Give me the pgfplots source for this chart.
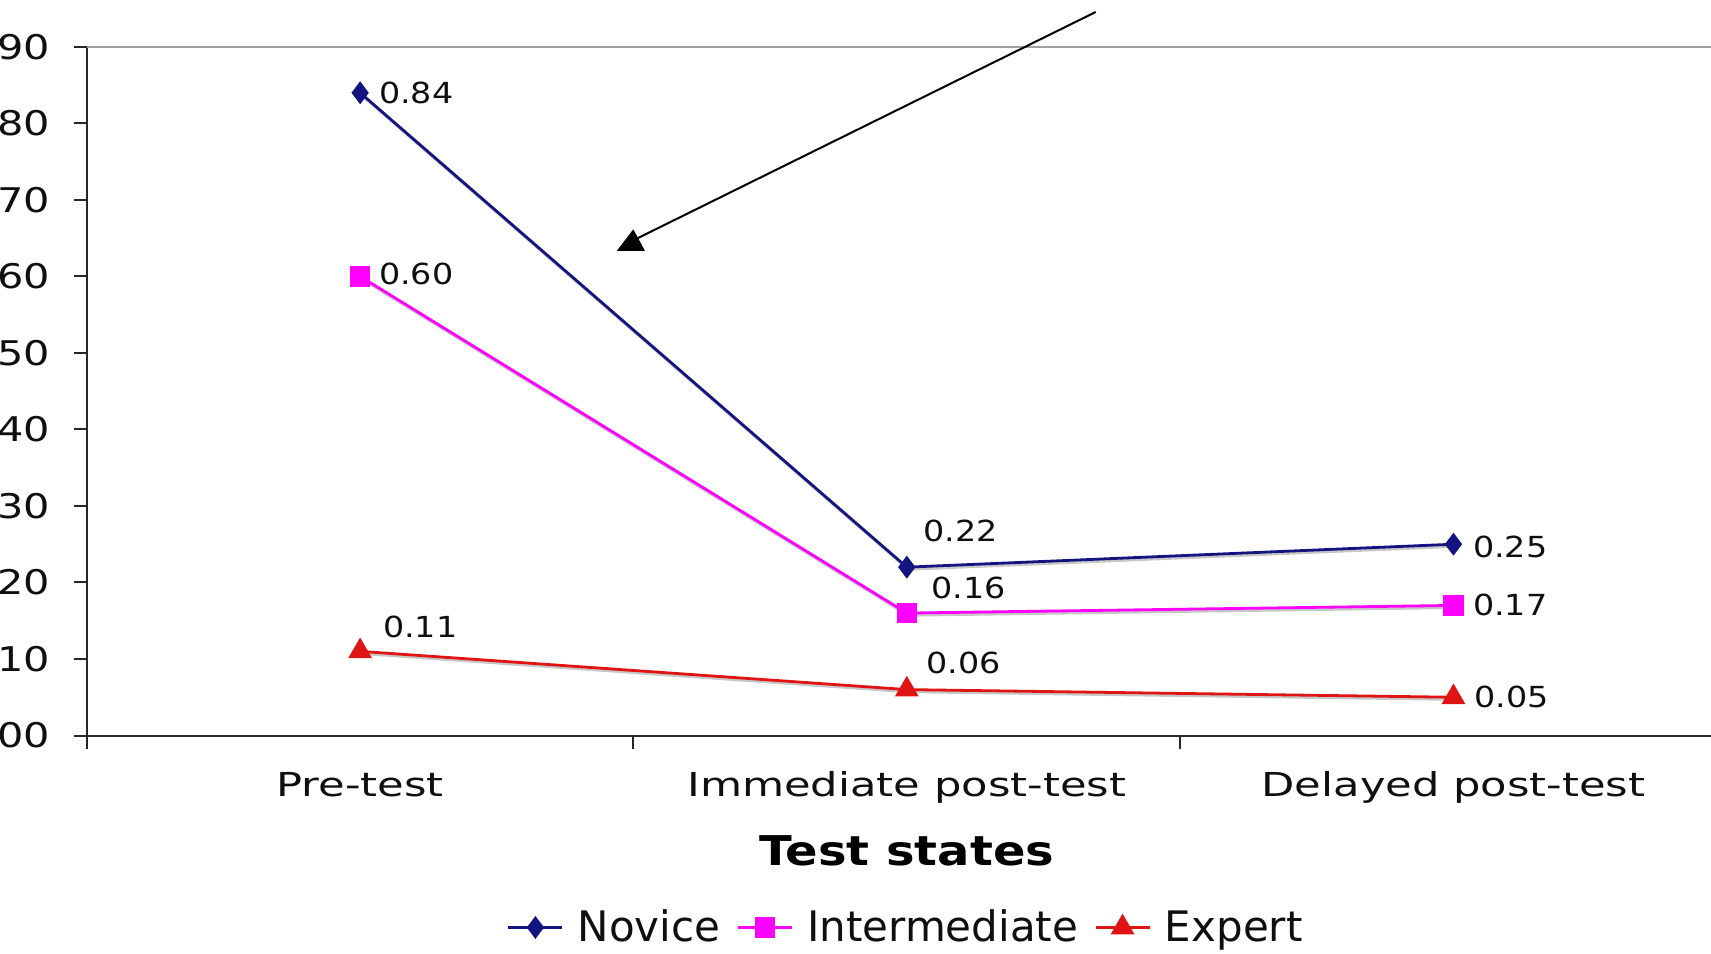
\documentclass[border=0pt]{standalone}
\usepackage{pgfplots}
\pgfplotsset{compat=1.18}
\usepackage{pgfplotstable}
\usepackage{fontspec}
\setmainfont{DejaVu Sans}
\newfontfamily\tickfont{DejaVu Sans}[FakeStretch=1.22]
\newfontfamily\catfont{DejaVu Sans}[FakeStretch=1.31]
\newfontfamily\valfont{DejaVu Sans}[FakeStretch=1.15]
\newfontfamily\titlefont{DejaVu Sans}[FakeStretch=1.17]

\definecolor{novice}{RGB}{20,20,128}
\definecolor{inter}{RGB}{255,0,255}
\definecolor{expert}{RGB}{225,20,20}
\definecolor{txt}{RGB}{15,15,15}

% x: 0 = Pre-test, 1 = Immediate post-test, 2 = Delayed post-test
% dx, dy: offset of each value label from its point (pt)
\pgfplotstableread{
x y dx dy
0 0.84 8.8 0
1 0.22 7.5 18.2
2 0.25 9.1 -1.2
}\novice
\pgfplotstableread{
x y dx dy
0 0.60 8.8 1
1 0.16 11.6 12.4
2 0.17 9.1 0
}\inter
\pgfplotstableread{
x y dx dy
0 0.11 10.8 12
1 0.06 9.1 13.1
2 0.05 9.9 0
}\expert

\pgfplotsset{
  valuelabels/.style={
    visualization depends on=\thisrow{dx}\as\dx,
    visualization depends on=\thisrow{dy}\as\dy,
    nodes near coords={\pgfmathprintnumber[fixed,fixed zerofill,precision=2,assume math mode=true]{\pgfplotspointmeta}},
    nodes near coords align={horizontal},
    every node near coord/.append style={anchor=west, inner sep=0pt,
      xshift=\dx pt, yshift=\dy pt, text=txt,
      font=\valfont\fontsize{14.5}{17}\selectfont},
  },
  shadow/.style={forget plot, draw=black!22, line width=1.4pt, no marks,
    xshift=0.6pt, yshift=-1.1pt},
}

\begin{document}
\begin{tikzpicture}
\begin{axis}[
  at={(43.4pt,108.75pt)}, anchor=south west,
  scale only axis, width=820pt, height=344.3pt,
  xmin=-0.5, xmax=2.5, ymin=0, ymax=0.9,
  clip=false,
  axis x line*=bottom, axis y line*=left,
  axis line style={-, line width=1pt, black!85},
  /pgf/number format/assume math mode=true,
  xtick={0,1,2},
  xticklabels={Pre-test, Immediate post-test, Delayed post-test},
  minor xtick={-0.5,0.5,1.5},
  ytick={0,0.1,0.2,0.3,0.4,0.5,0.6,0.7,0.8,0.9},
  minor ytick={0,0.1,0.2,0.3,0.4,0.5,0.6,0.7,0.8,0.9},
  major tick length=0pt, minor tick length=6.5pt,
  tick align=outside,
  tick style={line width=1pt, black!85},
  y tick label style={/pgf/number format/fixed, /pgf/number format/fixed zerofill,
    /pgf/number format/precision=2},
  yticklabel style={font=\tickfont\fontsize{17}{20}\selectfont, text=txt,
    anchor=east, inner sep=0pt, xshift=-18.2pt},
  xticklabel style={font=\catfont\fontsize{16.5}{19}\selectfont, text=txt,
    anchor=base, inner sep=0pt, yshift=-30.25pt},
  xlabel={Test states},
  xlabel style={at={(axis description cs:0.5,-0.1674)}, anchor=center,
    font=\titlefont\bfseries\fontsize{20.5}{24}\selectfont, text=black},
  legend columns=-1,
  legend style={at={(axis description cs:0.5,-0.2788)}, anchor=center,
    draw=none, fill=none, font=\fontsize{21}{25}\selectfont, text=txt,
    /tikz/every odd column/.append style={column sep=5pt},
    /tikz/every even column/.append style={column sep=6pt}},
  legend image code/.code={\draw[mark repeat=2,mark phase=2,#1]
    plot coordinates {(0pt,0pt) (13.5pt,0pt) (27pt,0pt)};},
]
% plot-area border along the top
\draw[gray!75, line width=1pt] (rel axis cs:0,1) -- (rel axis cs:1,1);

% soft drop shadows under the lines
\addplot[shadow] table[x=x,y=y] {\novice};
\addplot[shadow] table[x=x,y=y] {\inter};
\addplot[shadow] table[x=x,y=y] {\expert};

\addplot[novice, line width=1.4pt, mark=diamond*, mark size=4.6pt,
  mark options={solid, fill=novice}, valuelabels]
  table[x=x,y=y] {\novice};
\addlegendentry{Novice}
\addplot[inter, line width=1.4pt, mark=square*, mark size=4.4pt,
  mark options={solid, fill=inter}, valuelabels]
  table[x=x,y=y] {\inter};
\addlegendentry{Intermediate}
\addplot[expert, line width=1.4pt, mark=triangle*, mark size=5.5pt,
  mark options={solid, fill=expert}, valuelabels]
  table[x=x,y=y] {\expert};
\addlegendentry{Expert}
\end{axis}

% pointer arrow
\draw[line width=1pt] (547.85pt,470.5pt) -- (318pt,357pt);
\fill (308.35pt,351pt) -- (316.65pt,361.85pt) -- (322.5pt,351pt) -- cycle;

\pgfresetboundingbox
\path[use as bounding box] (0pt,0pt) rectangle (855.5pt,476.5pt);
\end{tikzpicture}
\end{document}
